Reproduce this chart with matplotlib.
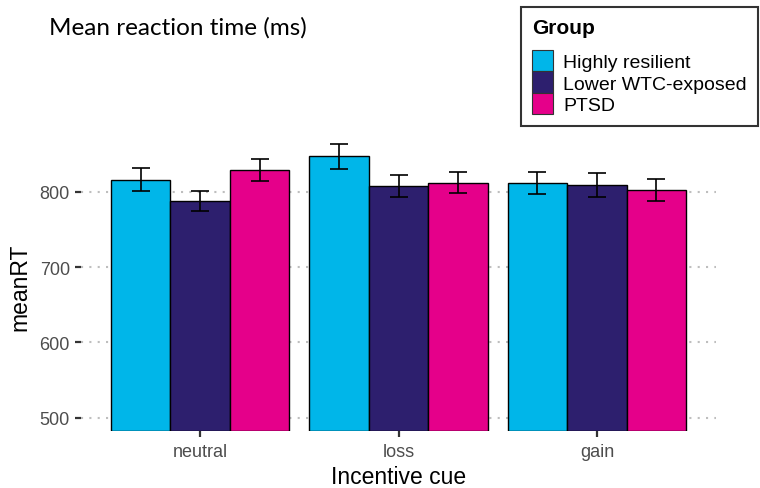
import matplotlib
matplotlib.use("Agg")
import matplotlib.pyplot as plt
import numpy as np

plt.rcParams['font.family'] = ['Liberation Sans', 'DejaVu Sans']

cues = ["neutral", "loss", "gain"]
groups = ["Highly resilient", "Lower WTC-exposed", "PTSD"]
colors = ["#00B6E9", "#2D1F6E", "#E5008A"]

# mean RT per group, one value per cue
mean_rt = {
    "Highly resilient":  [816, 847, 812],
    "Lower WTC-exposed": [788, 808, 809],
    "PTSD":              [829, 812, 803],
}
# standard errors
se_rt = {
    "Highly resilient":  [15, 16.5, 14.5],
    "Lower WTC-exposed": [13.5, 14.5, 16],
    "PTSD":              [15, 14, 14.5],
}
yticks = [500, 600, 700, 800]
ylim = (482.5, 867.5)

fig = plt.figure(figsize=(7.6, 4.89), dpi=100)
ax = fig.add_axes([81 / 760, 57 / 489, 635 / 760, 290 / 489])

x = np.arange(1, len(cues) + 1)
width = 0.3
offsets = [-width, 0, width]
for g, col, off in zip(groups, colors, offsets):
    ax.bar(x + off, np.array(mean_rt[g]) - ylim[0], width=width, bottom=ylim[0],
           color=col, edgecolor="black", linewidth=1.0, label=g, zorder=2)
    ax.errorbar(x + off, mean_rt[g], yerr=se_rt[g], fmt="none", ecolor="black",
                elinewidth=1.2, capsize=6.2, capthick=1.2, zorder=3)

ax.set_xlim(0.4, 3.6)
ax.set_ylim(*ylim)
ax.set_yticks(yticks)
ax.set_xticks(x)
ax.set_xticklabels(cues)
ax.yaxis.grid(True, linestyle=(0, (1, 3)), color="#BEBEBE", linewidth=1.5, zorder=0)
ax.set_axisbelow(True)
for s in ax.spines.values():
    s.set_visible(False)
ax.tick_params(axis="both", length=4.5, width=1.6, color="#333333",
               labelcolor="#4D4D4D", labelsize=13)
ax.tick_params(axis="x", pad=4.5)
ax.tick_params(axis="y", pad=3.5)
ax.set_xlabel("Incentive cue", fontsize=16.5, color="black", labelpad=3)
ax.set_ylabel("meanRT", fontsize=16.5, color="black", labelpad=6)

leg = fig.legend(loc="upper left", bbox_to_anchor=(521 / 760, 1 - 8 / 489),
                 bbox_transform=fig.transFigure, title="Group", fontsize=14,
                 frameon=True, fancybox=False, edgecolor="black",
                 handlelength=1.05, handleheight=1.33, labelspacing=0.0,
                 handletextpad=0.55, borderpad=0.58, borderaxespad=0,
                 alignment="left")
leg.get_frame().set_linewidth(1.5)
leg.get_title().set_fontweight("bold")
leg.get_title().set_fontsize(15)
leg._legend_box.sep = 9
for h in leg.legend_handles:
    h.set_edgecolor("#333333")
    h.set_linewidth(0.8)

fig.text(49 / 760, 1 - 28 / 489, "Mean reaction time (ms)", fontsize=17.5,
         family=["Lato", "DejaVu Sans"], va="center", ha="left")

fig.savefig("out.png", dpi=100)
